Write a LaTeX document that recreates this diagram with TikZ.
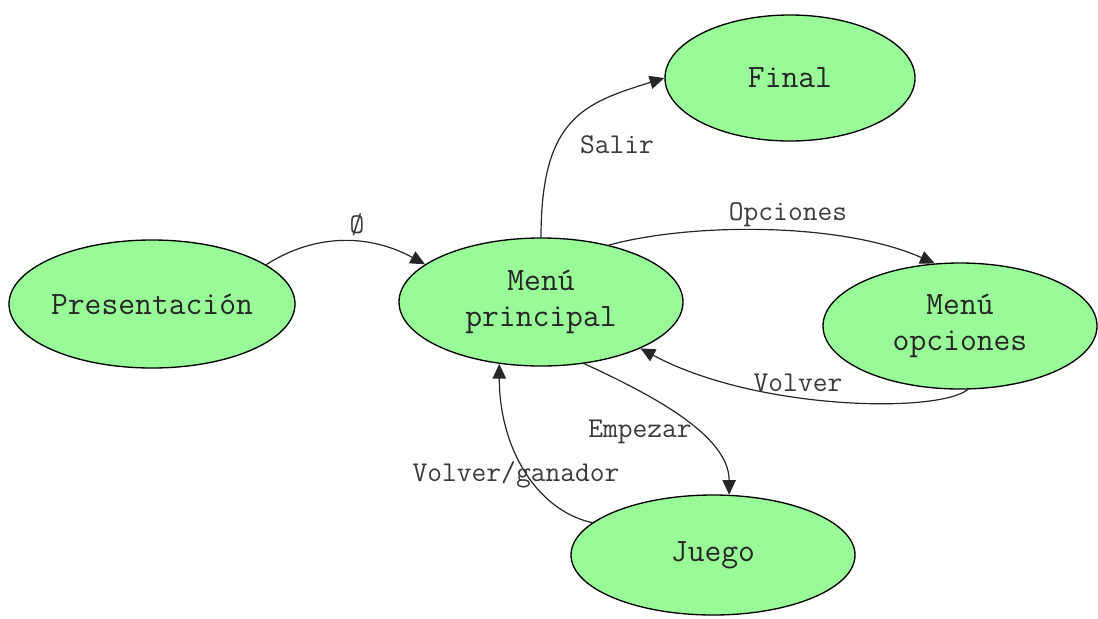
\documentclass[tikz,border=0pt]{standalone}
\usepackage{fontspec}
\usetikzlibrary{shapes.geometric,arrows.meta}
\definecolor{nodefill}{HTML}{98FB98}
\definecolor{labelgray}{HTML}{3A3A3A}
\begin{document}
\begin{tikzpicture}[x=0.75pt,y=-0.75pt,
  state/.style={ellipse,draw=black,line width=1pt,fill=nodefill,inner sep=0pt,
    font=\ttfamily\fontsize{24.5}{27}\selectfont,text=black!85,align=center},
  conn/.style={draw=black!85,line width=0.9pt,-{Triangle[length=11pt,width=10pt]}},
  lbl/.style={font=\ttfamily\fontsize{21.5}{24}\selectfont,text=labelgray,inner sep=1pt}]
\useasboundingbox (0,0) rectangle (1098,618);
\node[state,minimum width=214.5pt,minimum height=96pt] (pres) at (152,304) {Presentación};
\node[state,minimum width=213pt,minimum height=96pt] (mp) at (541,302) {Menú\\principal};
\node[state,minimum width=187.5pt,minimum height=94.5pt] (fin) at (790,78) {Final};
\node[state,minimum width=205.5pt,minimum height=94.5pt] (mo) at (960,326) {Menú\\opciones};
\node[state,minimum width=213pt,minimum height=90pt] (jue) at (713,555) {Juego};

\draw[conn] (pres.19) .. controls +(50,-32) and +(-55,-30) .. (mp.162);
\draw[conn] (mp.90) .. controls +(0,-120) and +(-80,25) .. (fin.180);
\draw[conn] (mp.40) .. controls +(80,-22) and +(-95,-42) .. (mo.112);
\draw[conn] (mo.-83) .. controls +(-30,24) and +(115,62) .. (mp.-25);
\draw[conn] (mp.-55) .. controls +(65,30) and +(0,-60) .. (jue.75);
\draw[conn] (jue.165) .. controls +(-55,-12) and +(0,85) .. (mp.-124);

\node[lbl] (l1) at (357,225) {Ø};
\node[lbl] (l2) at (617,145) {Salir};
\node[lbl] (l3) at (788,215) {Opciones};
\node[lbl] (l4) at (798,383) {Volver};
\node[lbl] (l5) at (640,432) {Empezar};
\node[lbl] (l6) at (516,475) {Volver/ganador};
\end{tikzpicture}
\end{document}
